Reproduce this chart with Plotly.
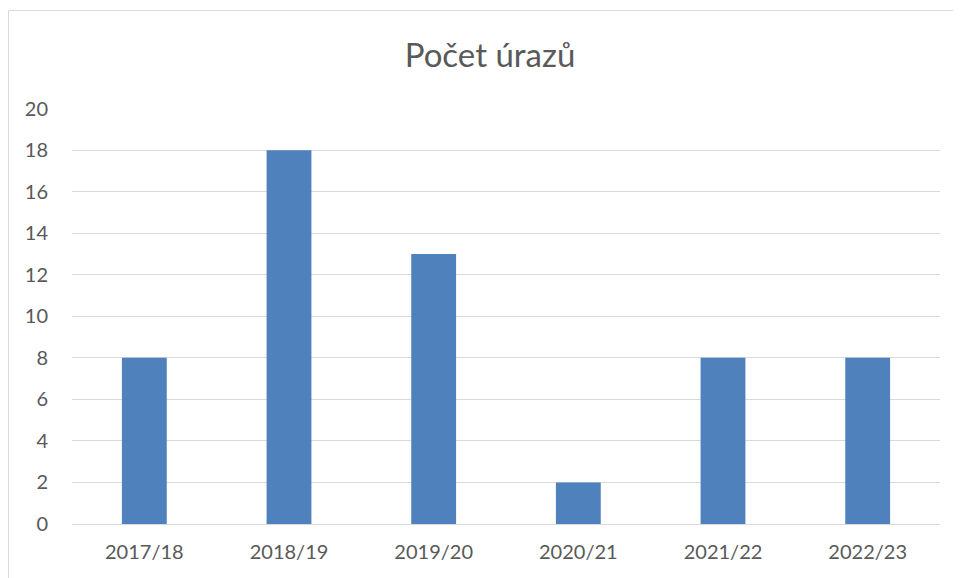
import plotly.graph_objects as go

seasons = ["2017/18", "2018/19", "2019/20", "2020/21", "2021/22", "2022/23"]
injuries = [8, 18, 13, 2, 8, 8]
y_ticks = [0, 2, 4, 6, 8, 10, 12, 14, 16, 18, 20]

# page body margin of 8px shifts the figure, so offsets below are in figure pixels
W, H = 961, 578
L, R, T, B = 64, 29, 100, 62
pw, ph = W - L - R, H - T - B

fig = go.Figure()
fig.add_trace(go.Bar(x=seasons, y=injuries, marker=dict(color="#4F81BD", line=dict(width=0))))

fig.update_layout(
    width=W, height=H,
    margin=dict(l=L, r=R, t=T, b=B, autoexpand=False),
    paper_bgcolor="white", plot_bgcolor="white",
    bargap=0.69,
    showlegend=False,
    font=dict(family="Lato, Open Sans, sans-serif", color="#595959"),
    title=dict(text="Počet úrazů", x=(490 - 8) / W, xanchor="center", y=1 - 47 / H, yanchor="middle",
               font=dict(size=33, color="#595959")),
    xaxis=dict(showgrid=False, showline=False, zeroline=False, ticks="",
               tickfont=dict(size=20), ticklabelstandoff=14),
    yaxis=dict(range=[0, 20.03], tickvals=y_ticks, showgrid=True, gridcolor="#D9D9D9", gridwidth=1.3,
               zeroline=True, zerolinecolor="#D9D9D9", zerolinewidth=1.3, showline=False,
               ticks="", tickfont=dict(size=20), ticklabelstandoff=23),
)

# outer chart border (light gray frame)
fig.add_shape(type="rect", xref="paper", yref="paper",
              x0=(0.5 - L) / pw, x1=(W + 2 - L) / pw,
              y0=(H - B - (H + 2)) / ph, y1=(H - B - 2.5) / ph,
              line=dict(color="#D9D9D9", width=1), layer="below")

fig.write_html("out.html")
